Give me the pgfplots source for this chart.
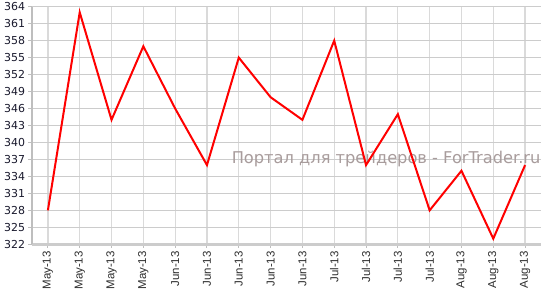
\documentclass[border=0pt]{standalone}
\usepackage{fontspec}
\setmainfont{DejaVu Sans}
\newfontfamily\arialf{Liberation Sans}
\usepackage{pgfplots}
\pgfplotsset{compat=1.18}
\definecolor{gridc}{RGB}{204,204,204}
\definecolor{vgridc}{RGB}{218,218,218}
\definecolor{axc}{RGB}{190,190,190}
\definecolor{wm}{RGB}{168,156,156}
\definecolor{ylab}{RGB}{25,25,45}
\definecolor{xlab}{RGB}{45,45,45}
\begin{document}
\begin{tikzpicture}
\begin{axis}[
  at={(0,0)}, anchor=south west,
  scale only axis, width=509bp, height=237.6bp,
  xmin=-0.5, xmax=15.5, ymin=322, ymax=364,
  ytick={322,325,...,364},
  xtick={0,...,15},
  xticklabels={May-13,May-13,May-13,May-13,Jun-13,Jun-13,Jun-13,Jun-13,Jun-13,Jul-13,Jul-13,Jul-13,Jul-13,Aug-13,Aug-13,Aug-13},
  x tick label style={rotate=90, anchor=east, font=\arialf\fontsize{11.5}{11.5}\selectfont, text=xlab},
  y tick label style={font=\fontsize{11}{11}\selectfont, text=ylab},
  /pgf/number format/assume math mode=true,
  axis x line*=bottom, axis y line*=left,
  x axis line style={line width=2.6bp, color=gridc},
  y axis line style={line width=1.5bp, color=axc},
  tick align=outside, major tick length=3.5bp,
  tick style={color=axc, line width=1bp},
  ymajorgrids, xmajorgrids,
  y grid style={gridc, line width=0.9bp},
  x grid style={vgridc, line width=1.3bp},
  clip=false,
]
\node[anchor=base, text=wm, font=\fontsize{16.3}{16.3}\selectfont] at (axis cs:10.63,336.2) {Портал для трейдеров - ForTrader.ru};
\addplot[red, line width=2bp, line join=miter, mark=none] coordinates {
(0,328) (1,363) (2,344) (3,357) (4,346) (5,336) (6,355) (7,348)
(8,344) (9,358) (10,336) (11,345) (12,328) (13,335) (14,323) (15,336)
};
\end{axis}
\pgfresetboundingbox
\path[use as bounding box] (-32bp,-51.7bp) rectangle (515bp,244.3bp);
\end{tikzpicture}
\end{document}
